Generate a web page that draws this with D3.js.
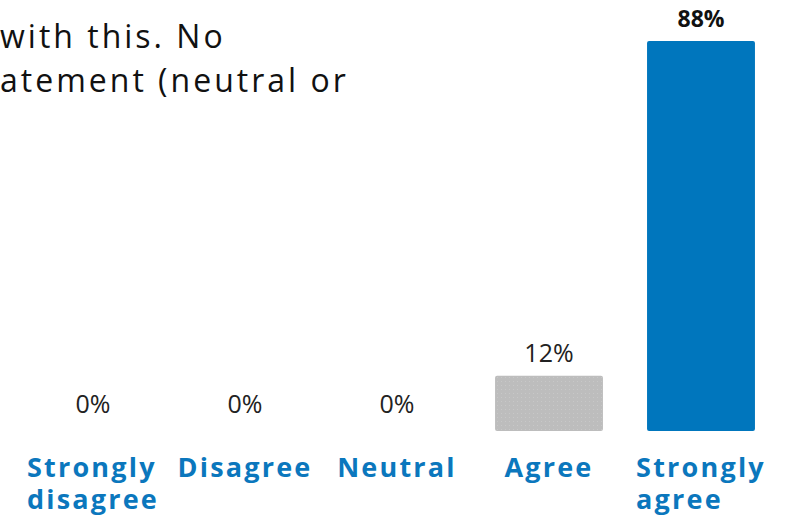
<!DOCTYPE html>
<html>
<head>
<meta charset="utf-8">
<script src="https://cdn.jsdelivr.net/npm/d3@7"></script>
<style>
  body { margin: 0; background: #fff; }
  #chart { width: 789px; height: 520px; }
</style>
</head>
<body>
<div id="chart"></div>
<script>
// Dados do gráfico
const categories = ['Strongly disagree', 'Disagree', 'Neutral', 'Agree', 'Strongly agree'];
const labelLines = [['Strongly', 'disagree'], ['Disagree'], ['Neutral'], ['Agree'], ['Strongly', 'agree']];
const percents = [0, 0, 0, 12.4, 87.6];
const barColors = ['#bdbdbd', '#bdbdbd', '#bdbdbd', 'url(#dots)', '#0076bd'];
const titleLines = ['with this. No', 'atement (neutral or'];

const width = 789, height = 520;
const svg = d3.select('#chart').append('svg')
    .attr('width', width)
    .attr('height', height);

// Textura pontilhada da barra cinza
const pattern = svg.append('defs').append('pattern')
    .attr('id', 'dots')
    .attr('width', 4).attr('height', 4)
    .attr('patternUnits', 'userSpaceOnUse');
pattern.append('rect').attr('width', 4).attr('height', 4).attr('fill', '#bdbdbd');
pattern.append('rect').attr('x', 1).attr('y', 1).attr('width', 1).attr('height', 1).attr('fill', '#c8c8c8');

// Texto do título (cortado)
svg.append('g').selectAll('text')
    .data(titleLines)
    .enter().append('text')
    .attr('x', 0)
    .attr('y', (d, i) => 48 + i * 44)
    .attr('font-family', 'Open Sans')
    .attr('font-size', 32)
    .attr('letter-spacing', 3)
    .attr('fill', '#111')
    .text(d => d);

// Escalas
const x = d3.scaleBand()
    .domain(categories)
    .range([17, 777])
    .paddingInner(0.29)
    .paddingOuter(0.145);

const y = d3.scaleLinear()
    .domain([0, 87.6])
    .range([431, 41]);

// Barras
svg.selectAll('.bar')
    .data(percents)
    .enter().append('rect')
    .attr('class', 'bar')
    .attr('x', (d, i) => x(categories[i]))
    .attr('y', d => y(d))
    .attr('width', x.bandwidth())
    .attr('height', d => y(0) - y(d))
    .attr('rx', 2)
    .attr('fill', (d, i) => barColors[i]);

// Rótulos de valor
svg.selectAll('.bar-label')
    .data(percents)
    .enter().append('text')
    .attr('class', 'bar-label')
    .attr('x', (d, i) => x(categories[i]) + x.bandwidth() / 2)
    .attr('y', d => d === 0 ? y(d) - 18 : y(d) - 14)
    .attr('text-anchor', 'middle')
    .attr('font-family', 'Open Sans')
    .attr('font-size', d => d > 50 ? 23 : 25)
    .attr('font-weight', d => d > 50 ? 700 : 400)
    .attr('fill', d => d > 50 ? '#111' : '#222')
    .text(d => Math.round(d) + '%');

// Rótulos das categorias (uma linha por texto, alinhadas à esquerda no bloco)
const catGroups = svg.selectAll('.cat')
    .data(labelLines)
    .enter().append('g')
    .attr('class', 'cat');

catGroups.each(function(lines, i) {
    const g = d3.select(this);
    lines.forEach((line, j) => {
        g.append('text')
            .attr('x', 0)
            .attr('y', 477 + j * 32)
            .attr('font-family', 'Open Sans')
            .attr('font-size', 27)
            .attr('font-weight', 700)
            .attr('letter-spacing', 2.2)
            .attr('fill', '#0b77bd')
            .text(line);
    });
    const w = this.getBBox().width;
    const left = x(categories[i]) + x.bandwidth() / 2 - w / 2;
    g.selectAll('text').attr('x', left);
});
</script>
</body>
</html>
